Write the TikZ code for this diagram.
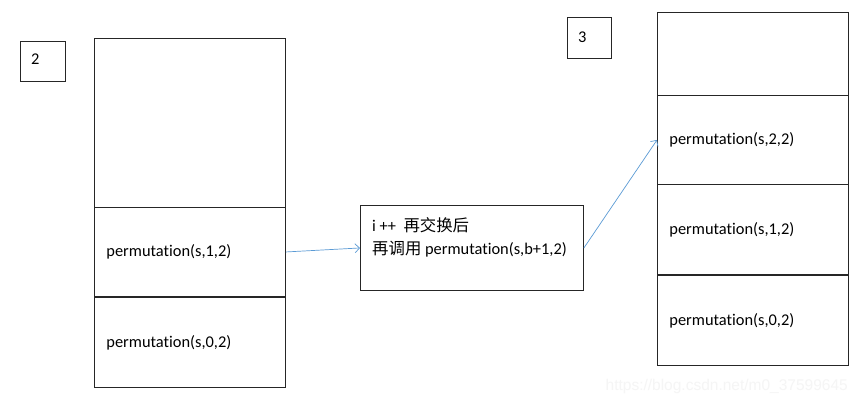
\documentclass[tikz,border=0pt]{standalone}
\usepackage{fontspec}
\setmainfont[Ligatures=NoCommon]{Carlito}
\newfontfamily\cjk{Noto Sans CJK SC}
\newfontfamily\wm{Liberation Sans}
\usetikzlibrary{arrows.meta}
\definecolor{arrowblue}{HTML}{5B9BD5}
\definecolor{edge}{HTML}{262626}
\tikzset{
  x=1pt,y=-1pt,
  box/.style={draw=edge, line width=0.9pt, anchor=north west, inner sep=0pt, font=\fontsize{16.4}{19}\selectfont},
  stackbox/.style={box, align=left, inner xsep=12pt},
  link/.style={draw=arrowblue, line width=0.7pt, -{Straight Barb[length=4.5pt,width=9pt]}},
  txt/.style={anchor=west, inner sep=0pt, font=\fontsize{16.4}{19}\selectfont}
}
\begin{document}
\begin{tikzpicture}
\useasboundingbox (0,0) rectangle (859,408);
\fill[white] (0,0) rectangle (859,408);
% label boxes
\node[box, minimum width=45pt, minimum height=40pt] (two) at (20,41) {};
\node[txt] (twot) at (31,59) {2};
\node[box, minimum width=44pt, minimum height=41pt] (three) at (567,17) {};
\node[txt] (threet) at (578,37) {3};
% left stack
\node[box, minimum width=191pt, minimum height=169pt] (l0) at (94,38) {};
\node[stackbox, minimum width=191pt, minimum height=89pt, text width=167pt] (l1) at (94,207) {permutation(s,1,2)};
\node[stackbox, minimum width=191pt, minimum height=90pt, text width=167pt] (l2) at (94,297) {permutation(s,0,2)};
% middle box
\node[box, minimum width=223pt, minimum height=85pt] (mid) at (360,205) {};
\node[txt] (midt1) at (372,225) {i ++\ \ {\cjk 再交换后}};
\node[txt] (midt2) at (372,249) {{\cjk 再调用} permutation(s,b+1,2)};
% right stack
\node[box, minimum width=191pt, minimum height=83pt] (r0) at (657,12) {};
\node[stackbox, minimum width=191pt, minimum height=89pt, text width=167pt] (r1) at (657,95) {permutation(s,2,2)};
\node[stackbox, minimum width=191pt, minimum height=90pt, text width=167pt] (r2) at (657,184) {permutation(s,1,2)};
\node[stackbox, minimum width=191pt, minimum height=90pt, text width=167pt] (r3) at (657,275) {permutation(s,0,2)};
% arrows
\draw[link] (l1.east) -- (mid.west);
\draw[link] (mid.east) -- (r1.west);
% watermark
\node[anchor=east, inner sep=0pt, text=black!4, font=\wm\fontsize{15.5}{18}\selectfont] (wmark) at (848,386) {https://blog.csdn.net/m0\_37599645};
\end{tikzpicture}
\end{document}
